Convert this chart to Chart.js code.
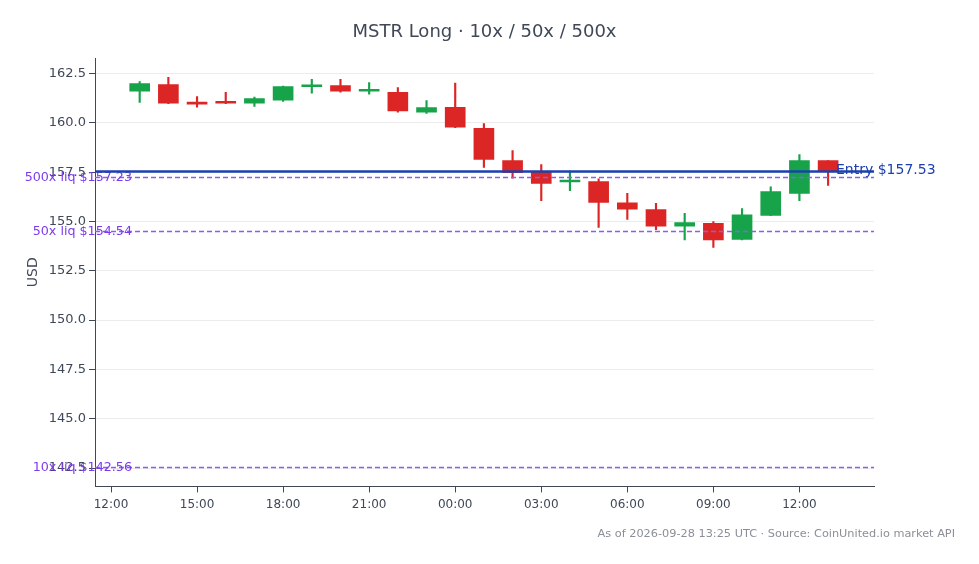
<!DOCTYPE html>
<html>
<head>
<meta charset="utf-8">
<title>MSTR Long</title>
<script src="https://cdn.jsdelivr.net/npm/chart.js@4.4.0/dist/chart.umd.min.js"></script>
<style>
  html, body { margin: 0; padding: 0; background: #fff; }
  #wrap { width: 979px; height: 564px; }
</style>
</head>
<body>
<div id="wrap"><canvas id="chartCandles"></canvas></div>
<script>
// ── Data (hourly candles, UTC) ──
var times = [
  '2026-09-27T13:00Z', '2026-09-27T14:00Z', '2026-09-27T15:00Z', '2026-09-27T16:00Z',
  '2026-09-27T17:00Z', '2026-09-27T18:00Z', '2026-09-27T19:00Z', '2026-09-27T20:00Z',
  '2026-09-27T21:00Z', '2026-09-27T22:00Z', '2026-09-27T23:00Z', '2026-09-28T00:00Z',
  '2026-09-28T01:00Z', '2026-09-28T02:00Z', '2026-09-28T03:00Z', '2026-09-28T04:00Z',
  '2026-09-28T05:00Z', '2026-09-28T06:00Z', '2026-09-28T07:00Z', '2026-09-28T08:00Z',
  '2026-09-28T09:00Z', '2026-09-28T10:00Z', '2026-09-28T11:00Z', '2026-09-28T12:00Z',
  '2026-09-28T13:00Z'
];
var opens  = [161.60, 161.94, 161.03, 161.03, 160.99, 161.15, 161.83, 161.89, 161.60, 161.54, 160.54, 160.78,
              159.72, 158.08, 157.49, 157.00, 157.02, 155.95, 155.60, 154.76, 154.90, 154.09, 155.31, 156.42, 158.08];
var highs  = [162.09, 162.31, 161.33, 161.55, 161.30, 161.86, 162.20, 162.20, 162.04, 161.79, 161.13, 162.01,
              159.96, 158.59, 157.88, 157.55, 157.16, 156.42, 155.92, 155.41, 155.00, 155.65, 156.76, 158.39, 158.08];
var lows   = [161.03, 160.97, 160.79, 160.97, 160.83, 161.09, 161.50, 161.55, 161.45, 160.54, 160.48, 159.76,
              157.74, 157.19, 156.05, 156.56, 154.70, 155.10, 154.58, 154.06, 153.68, 154.07, 155.30, 156.05, 156.83];
var closes = [161.99, 160.99, 160.95, 160.99, 161.23, 161.84, 161.91, 161.61, 161.65, 160.60, 160.77, 159.78,
              158.15, 157.47, 156.93, 157.10, 155.97, 155.62, 154.76, 154.94, 154.07, 155.34, 156.51, 158.08, 157.53];

var axisStart  = '2026-09-27T12:00Z';
var xTickLabels = ['12:00', '15:00', '18:00', '21:00', '00:00', '03:00', '06:00', '09:00', '12:00'];
var yTicks = [142.5, 145.0, 147.5, 150.0, 152.5, 155.0, 157.5, 160.0, 162.5];

var entryPrice = 157.53;
var liqLabels = ['500x liq', '50x liq', '10x liq'];
var liqPrices = [157.23, 154.54, 142.56];

// ── Helpers ──
var GREEN = '#16a34a', RED = '#dc2626';
var INK = '#3f4857';

function _hoursFromStart(t) {
  return (Date.parse(t) - Date.parse(axisStart)) / 3600000;
}

var xs = times.map(_hoursFromStart);
var colors = opens.map(function(o, i) { return closes[i] >= o ? GREEN : RED; });
var bodies = xs.map(function(x, i) { return { x: x, y: [opens[i], closes[i]] }; });
var wicks  = xs.map(function(x, i) { return { x: x, y: [lows[i], highs[i]] }; });

var refLines = {
  id: 'refLines',
  afterDatasetsDraw: function(chart) {
    var ctx = chart.ctx, a = chart.chartArea, y = chart.scales.y;
    ctx.save();
    // liquidation levels
    liqPrices.forEach(function(p, i) {
      var py = Math.round(y.getPixelForValue(p)) + 0.5;
      ctx.strokeStyle = '#8b5cf6';
      ctx.lineWidth = 1.3;
      ctx.setLineDash([5, 3]);
      ctx.beginPath(); ctx.moveTo(a.left, py); ctx.lineTo(a.right, py); ctx.stroke();
      ctx.setLineDash([]);
      ctx.fillStyle = '#7c3aed';
      ctx.font = '12.7px "DejaVu Sans"';
      ctx.textAlign = 'right';
      ctx.textBaseline = 'middle';
      ctx.fillText(liqLabels[i] + ' $' + p.toFixed(2), a.left + 37, py);
    });
    // entry
    var ey = y.getPixelForValue(entryPrice);
    ctx.strokeStyle = '#1e40af';
    ctx.lineWidth = 2.5;
    ctx.beginPath(); ctx.moveTo(a.left, ey); ctx.lineTo(a.right, ey); ctx.stroke();
    ctx.fillStyle = '#1e40af';
    ctx.font = '14px "DejaVu Sans"';
    ctx.textAlign = 'left';
    ctx.textBaseline = 'middle';
    ctx.fillText('Entry $' + entryPrice.toFixed(2), a.right - 38, ey - 1);
    ctx.restore();
  },
  afterDraw: function(chart) {
    // x tick marks below the axis
    var ctx = chart.ctx, a = chart.chartArea, x = chart.scales.x;
    ctx.save();
    ctx.strokeStyle = INK;
    ctx.lineWidth = 1;
    x.ticks.forEach(function(t) {
      var px = Math.round(x.getPixelForValue(t.value)) + 0.5;
      ctx.beginPath(); ctx.moveTo(px, a.bottom); ctx.lineTo(px, a.bottom + 6); ctx.stroke();
    });
    ctx.restore();
  }
};

Chart.defaults.font.family = '"DejaVu Sans", sans-serif';
Chart.defaults.color = INK;

new Chart(document.getElementById('chartCandles'), {
  type: 'bar',
  data: {
    datasets: [
      { label: 'wick', data: wicks, backgroundColor: colors, barThickness: 1.5, grouped: false, order: 2 },
      { label: 'body', data: bodies, backgroundColor: colors, barThickness: 20, minBarLength: 2, grouped: false, order: 1 }
    ]
  },
  options: {
    responsive: true,
    maintainAspectRatio: false,
    animation: false,
    layout: { padding: { left: 0, right: 24, top: 0, bottom: 0 } },
    plugins: {
      legend: { display: false },
      tooltip: { enabled: false },
      title: {
        display: true,
        text: 'MSTR Long · 10x / 50x / 500x',
        fullSize: false,
        color: INK,
        font: { size: 18, weight: 'normal' },
        padding: { top: 22, bottom: 14.5 }
      },
      subtitle: {
        display: true,
        position: 'bottom',
        align: 'end',
        text: 'As of 2026-09-28 13:25 UTC · Source: CoinUnited.io market API',
        color: '#8a8f98',
        font: { size: 11.3 },
        padding: { top: 11, bottom: 23 }
      }
    },
    scales: {
      x: {
        type: 'linear',
        offset: false,
        min: -0.558,
        max: 26.6,
        afterBuildTicks: function(s) { s.ticks = xTickLabels.map(function(l, i) { return { value: i * 3 }; }); },
        afterFit: function(s) { s.height = 30; },
        ticks: { callback: function(v, i) { return xTickLabels[i]; }, font: { size: 12 }, color: INK, padding: 3, maxRotation: 0 },
        grid: { display: false },
        border: { color: INK, width: 1 }
      },
      y: {
        position: 'left',
        min: 141.57,
        max: 163.28,
        afterBuildTicks: function(s) { s.ticks = yTicks.map(function(v) { return { value: v }; }); },
        afterFit: function(s) { s.width = 95; },
        ticks: { callback: function(v) { return v.toFixed(1); }, font: { size: 13 }, color: INK, padding: 3 },
        grid: { color: '#ececec', tickLength: 6, tickColor: INK },
        border: { color: INK, width: 1 },
        title: { display: true, text: 'USD', color: INK, font: { size: 14 }, padding: { top: 25, bottom: 0 } }
      },
      yR: {
        position: 'right',
        min: 141.57,
        max: 163.28,
        afterFit: function(s) { s.width = 81; },
        ticks: { display: false },
        grid: { display: false },
        border: { display: false }
      }
    }
  },
  plugins: [refLines]
});
</script>
</body>
</html>
